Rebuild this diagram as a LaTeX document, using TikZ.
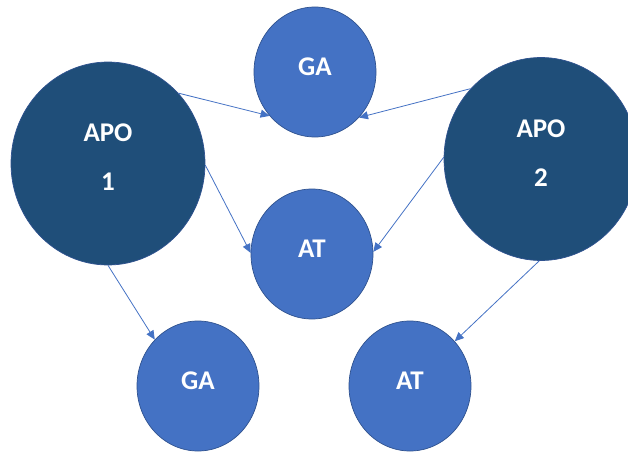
\documentclass[tikz,border=0pt]{standalone}
\usepackage{fontspec}
\setmainfont{Carlito}
\usetikzlibrary{arrows.meta,shapes.geometric}
\definecolor{apoblue}{HTML}{1F4E79}
\definecolor{geneblue}{HTML}{4472C4}
\definecolor{rimblue}{HTML}{2F528F}
\tikzset{>={Triangle[length=9pt,width=8pt]}}
\tikzset{
    apo/.style={ellipse,draw=rimblue,fill=apoblue,line width=0.7pt,minimum width=194pt,minimum height=203pt,
        inner sep=0pt,text=white,align=center,font=\fontsize{27}{49}\selectfont\bfseries,text depth=12pt},
    gene/.style={ellipse,draw=rimblue,fill=geneblue,line width=0.7pt,minimum width=122pt,minimum height=130pt,
        inner sep=0pt,text=white,font=\fontsize{27}{32}\selectfont\bfseries,text depth=10pt},
    link/.style={draw=geneblue,line width=0.8pt,->},
}
\begin{document}
\begin{tikzpicture}[x=1pt,y=-1pt]
    \useasboundingbox (0,0) rectangle (628,452);
    \node[apo] (apo1) at (108,163.5) {APO\\1};
    \node[apo] (apo2) at (541,159) {APO\\2};
    \node[gene] (ga1) at (315,72) {GA};
    \node[gene] (at1) at (312,254) {AT};
    \node[gene] (ga2) at (198,386) {GA};
    \node[gene] (at2) at (410,386) {AT};

    \draw[link] (apo1.45) -- (ga1.224);
    \draw[link] (apo1.-1) -- (at1.179);
    \draw[link] (apo1.-90) -- (ga2.133);
    \draw[link] (apo2.135) -- (ga1.314);
    \draw[link] (apo2.179) -- (at1.2);
    \draw[link] (apo2.269) -- (at2.45);
\end{tikzpicture}
\end{document}
